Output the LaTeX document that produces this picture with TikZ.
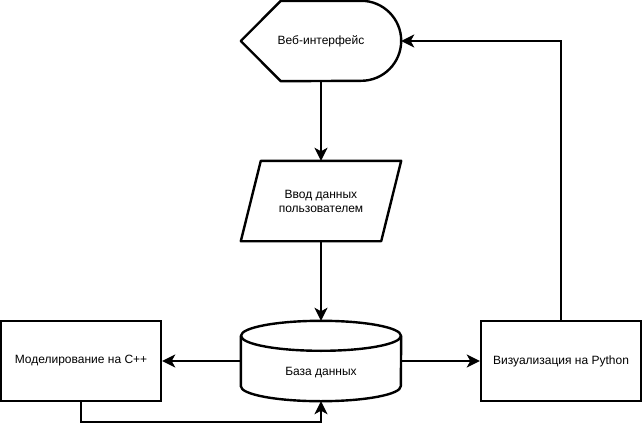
\documentclass[tikz,border=0pt]{standalone}
\usepackage{fontspec}
\setmainfont{Liberation Sans}
\usetikzlibrary{arrows.meta}
\begin{document}
\begin{tikzpicture}[x=1pt,y=-1pt]
  \tikzstyle{b} = [minimum width=160pt, minimum height=80pt, inner sep=0pt, align=center, font=\fontsize{12}{14}\selectfont]
  \tikzstyle{box} = [b, draw, line width=2.4pt]
  \tikzstyle{o} = [line width=2.4pt, line join=round]
  \tikzstyle{e} = [line width=2.4pt, -{Stealth[length=13pt,width=13pt,inset=3.5pt]}]
  \useasboundingbox (0,0) rectangle (643,431);
  \node[b](web) at (321,41){Веб-интерфейс};
  \node[b](input) at (321,201){Ввод данных\\пользователем};
  \node[b](db) at (321,361){};
  \node[b, minimum height=0pt](dbtext) at (321,373){База данных};
  \node[box](sim) at (81,361){Моделирование на C++};
  \node[box](vis) at (561,361){Визуализация на Python};

  % outlines
  \draw[o] (web.west) -- ([xshift=40pt]web.north west) -- ([xshift=-40pt]web.north east)
    arc (90:-90:40pt) -- ([xshift=40pt]web.south west) -- cycle;
  \draw[o] ([xshift=20pt]input.north west) -- (input.north east)
    -- ([xshift=-20pt]input.south east) -- (input.south west) -- cycle;
  \draw[o] ([yshift=-15pt]db.north) ellipse (80pt and 15pt);
  \draw[o] ([yshift=-15pt]db.north west) -- ([yshift=15pt]db.south west)
    arc (180:360:80pt and 15pt) -- ([yshift=-15pt]db.north east);

  \draw[e](web)--(input);
  \draw[e](input)--(db);
  \draw[e](db)--(sim);
  \draw[e](db)--(vis);
  \draw[e](sim.south)--++(0,20)-|(db.south);
  \draw[e](vis.north)|-(web.east);
\end{tikzpicture}
\end{document}
